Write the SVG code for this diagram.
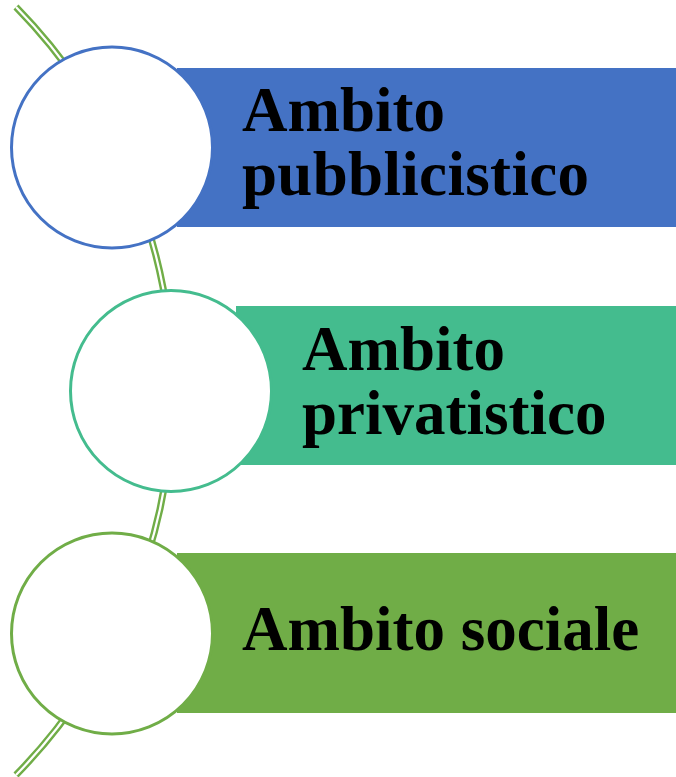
<svg xmlns="http://www.w3.org/2000/svg" width="676" height="777" viewBox="0 0 676 777">
<style>
.lbl{font-family:"Liberation Serif","Times New Roman",serif;font-weight:bold;font-size:63px;fill:#000}
.circ{fill:#fff;stroke-width:3}
</style>
<rect width="676" height="777" fill="#fff"/>
<g id="connectors">
<path d="M16,7 A548.7,548.7 0 0 1 16,775" fill="none" stroke="#70AD47" stroke-width="7"/>
<path d="M16,7 A548.7,548.7 0 0 1 16,775" fill="none" stroke="#fff" stroke-width="2.2"/>
</g>
<g id="node1">
<rect x="177" y="68" width="499" height="159" fill="#4472C4"/>
<circle class="circ" cx="112" cy="147.5" r="100.5" stroke="#4472C4"/>
<text class="lbl" x="242" y="131">Ambito</text>
<text class="lbl" x="242" y="195" textLength="347">pubblicistico</text>
</g>
<g id="node2">
<rect x="236" y="306" width="440" height="159" fill="#44BC8E"/>
<circle class="circ" cx="171" cy="391" r="100.5" stroke="#44BC8E"/>
<text class="lbl" x="302" y="370">Ambito</text>
<text class="lbl" x="302" y="434">privatistico</text>
</g>
<g id="node3">
<rect x="177" y="553" width="499" height="160" fill="#70AD47"/>
<circle class="circ" cx="112" cy="633.5" r="100.5" stroke="#70AD47"/>
<text class="lbl" x="242" y="650">Ambito sociale</text>
</g>
</svg>
